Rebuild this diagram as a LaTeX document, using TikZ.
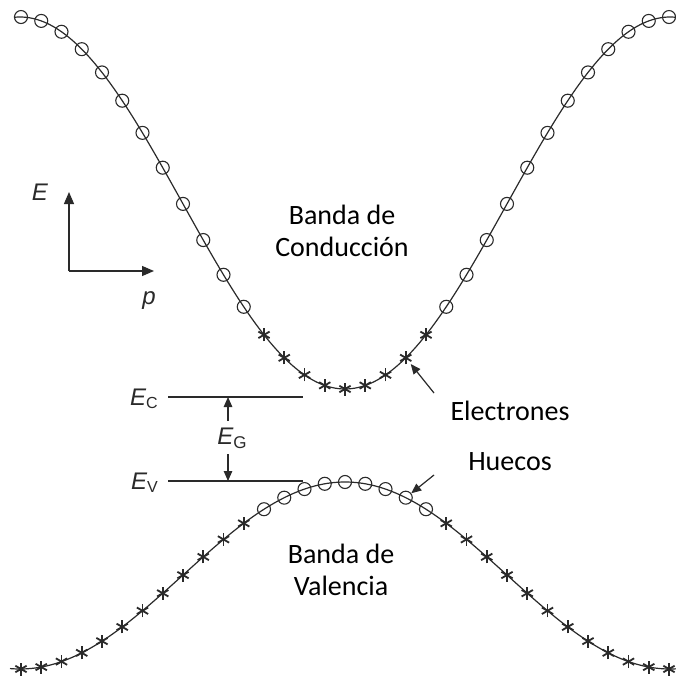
\documentclass[tikz,border=0pt]{standalone}
\usepackage{fontspec}
\setmainfont{Carlito}
\newfontfamily\arial{Liberation Sans}
\usetikzlibrary{arrows.meta,calc}
\definecolor{ink}{HTML}{2a2a2a}
\tikzset{
  curve/.style={draw=ink, line width=1.2pt},
  hole/.style={circle, draw=ink, line width=1.1pt, minimum size=13pt, inner sep=0pt},
  elec/.style={inner sep=0pt, minimum size=12pt},
  level/.style={draw=ink, line width=1.1pt},
  arr/.style={draw=ink, line width=1.2pt, -{Triangle[length=12pt,width=10pt]}},
  smallarr/.style={draw=ink, line width=1.2pt, -{Triangle[length=10pt,width=8.5pt]}},
  bandtext/.style={font=\fontsize{28}{32}\selectfont, align=center, text=black},
  lab/.style={font=\fontsize{28}{30}\selectfont, text=black},
  sym/.style={font=\arial\fontsize{24}{24}\selectfont, text=ink, inner sep=0pt}
}
\newcommand{\starmark}[1]{%
  \foreach \ang in {90,30,-30}{\draw[ink, line width=1.8pt] ($(#1)+(\ang:6.5)$) -- ($(#1)+(\ang+180:6.5)$);}}
\begin{document}
\begin{tikzpicture}[x=1pt, y=-1pt]
\path[use as bounding box, fill=white] (0,0) rectangle (676,679);
% bands
\draw[curve] plot[domain=14:676, samples=220] (\x, {203+186*cos((\x-345)*0.553846)});
\draw[curve] plot[domain=10:676, samples=220] (\x, {575.5-93.5*cos((\x-345)*0.553846)});
% markers
\foreach \k in {-16,...,16}{
  \pgfmathsetmacro{\xx}{345+20.25*\k}
  \pgfmathsetmacro{\yc}{203+186*cos((\xx-345)*0.553846)}
  \pgfmathsetmacro{\yv}{575.5-93.5*cos((\xx-345)*0.553846)}
  \pgfmathtruncatemacro{\ak}{abs(\k)}
  \ifnum\ak<5
    \node[elec] (c\k) at (\xx,\yc) {};
    \starmark{c\k}
    \node[hole] (v\k) at (\xx,\yv) {};
  \else
    \node[hole] (c\k) at (\xx,\yc) {};
    \node[elec] (v\k) at (\xx,\yv) {};
    \starmark{v\k}
  \fi
}
% axes
\coordinate (o) at (69,271);
\coordinate (etip) at (69,192);
\coordinate (ptip) at (154,271);
\draw[arr] (o) -- (etip);
\draw[arr] (o) -- (ptip);
\node[sym, font=\arial\itshape\fontsize{24}{24}\selectfont] (elab) at (40,192) {E};
\node[sym, font=\arial\itshape\fontsize{24}{24}\selectfont] (plab) at (149,301) {p};
% levels
\coordinate (ecl) at (168,397); \coordinate (ecr) at (303,397);
\coordinate (evl) at (168,481); \coordinate (evr) at (303,481);
\draw[level] (ecl) -- (ecr);
\draw[level] (evl) -- (evr);
\node[sym, anchor=base east] (eclab) at (158,405) {\itshape E\raisebox{-3pt}{\fontsize{16}{16}\selectfont\upshape C}};
\node[sym, anchor=base east] (evlab) at (158,489) {\itshape E\raisebox{-3pt}{\fontsize{16}{16}\selectfont\upshape V}};
\node[sym] (eg) at (232,438) {\itshape E\raisebox{-4pt}{\fontsize{17}{17}\selectfont\upshape G}};
\coordinate (egtop) at (228,397);
\coordinate (egbot) at (228,481);
\coordinate (egt1) at (228,421);
\coordinate (egb1) at (228,454);
\draw[smallarr] (egt1) -- (egtop);
\draw[smallarr] (egb1) -- (egbot);
% texts
\node[bandtext] (cb) at (342,231) {Banda de\\Conducción};
\node[bandtext] (vb) at (341,570) {Banda de\\Valencia};
\node[lab] (el) at (510,411) {Electrones};
\node[lab] (hu) at (510,462) {Huecos};
\coordinate (elt) at (434,393);
\coordinate (hut) at (434,475);
\draw[smallarr] (elt) -- (c3);
\draw[smallarr] (hut) -- (v3);
\end{tikzpicture}
\end{document}
